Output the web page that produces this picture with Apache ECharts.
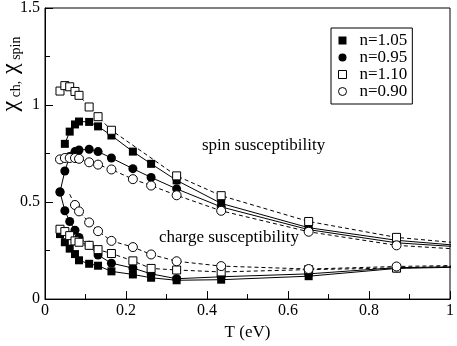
<!DOCTYPE html>
<html><head><meta charset="utf-8">
<script src="https://cdn.jsdelivr.net/npm/echarts@6/dist/echarts.min.js"></script>
<style>html,body{margin:0;padding:0;background:#fff}#c{width:457px;height:346px}</style>
</head><body><div id="c"></div>
<script>
// Temperatures (eV); last value lies beyond the plotted range (lines run off the right edge)
const T = [0.037, 0.049, 0.061, 0.074, 0.084, 0.109, 0.131, 0.164, 0.217, 0.262, 0.325, 0.435, 0.651, 0.868, 1.15];

// spin susceptibility
const spin105 = [null, 0.80, 0.863, 0.90, 0.915, 0.913, 0.89, 0.843, 0.76, 0.697, 0.612, 0.493, 0.368, 0.303, 0.254];
const spin095 = [0.552, 0.66, 0.735, 0.76, 0.768, 0.772, 0.76, 0.727, 0.672, 0.627, 0.568, 0.475, 0.358, 0.29, 0.252];
const spin110 = [1.072, 1.10, 1.094, 1.07, 1.05, 0.99, 0.94, 0.87, null, null, 0.635, 0.533, 0.40, 0.318, 0.265];
const spin090 = [0.72, 0.727, 0.727, 0.727, 0.723, 0.705, 0.693, 0.668, 0.618, 0.585, 0.535, 0.455, 0.347, 0.277, 0.241];

// charge susceptibility
const charge105 = [0.335, 0.293, 0.26, 0.232, 0.20, 0.182, 0.172, 0.143, 0.127, 0.11, 0.097, 0.10, 0.118, 0.158, 0.17];
const charge095 = [0.552, 0.455, 0.40, 0.355, 0.318, 0.277, 0.227, 0.185, 0.16, 0.13, 0.105, 0.115, 0.13, 0.162, 0.17];
const charge110 = [0.36, 0.348, 0.327, 0.30, 0.293, 0.277, 0.255, 0.235, 0.197, 0.158, 0.15, 0.14, 0.152, 0.16, 0.176];
const charge090 = [null, null, 0.54, 0.485, 0.452, 0.395, 0.35, 0.30, 0.268, 0.23, 0.195, 0.17, 0.155, 0.168, 0.178];
const charge090NoMark = [2]; // start of the dashed curve carries no marker

const legendNames = ['n=1.05', 'n=0.95', 'n=1.10', 'n=0.90'];
const xTicks = [0, 0.2, 0.4, 0.6, 0.8, 1];
const yTicks = [0, 0.5, 1, 1.5];

const FONT = "'Liberation Serif', 'Times New Roman', serif";

function mk(name, vals, sym, filled, dashed, noMark) {
  noMark = noMark || [];
  const data = [];
  T.forEach((t, i) => {
    if (vals[i] == null) return;
    if (noMark.indexOf(i) >= 0) data.push({ value: [t, vals[i]], symbol: 'none' });
    else data.push([t, vals[i]]);
  });
  return {
    type: 'line', name: name, data: data,
    symbol: sym, symbolSize: sym === 'rect' ? 8 : 9,
    clip: true,
    itemStyle: filled ? { color: '#000', borderColor: '#000', borderWidth: 0 }
                      : { color: '#fff', borderColor: '#000', borderWidth: 1 },
    lineStyle: { color: '#000', width: 1, type: dashed ? [4, 3] : 'solid' },
    emphasis: { disabled: true },
    animation: false
  };
}

const chart = echarts.init(document.getElementById('c'), null, { renderer: 'canvas' });
chart.setOption({
  backgroundColor: '#fff',
  animation: false,
  textStyle: { fontFamily: FONT },
  grid: { left: 45, right: 5, top: 7, bottom: 39, show: true, borderColor: '#000', borderWidth: 1 },
  xAxis: {
    type: 'value', min: 0, max: 1, interval: 0.2,
    name: 'T (eV)', nameLocation: 'middle', nameGap: 21,
    nameTextStyle: { fontFamily: FONT, fontSize: 17, color: '#000' },
    axisLine: { lineStyle: { color: '#000', width: 1 } },
    axisTick: { inside: true, length: 8, lineStyle: { color: '#000' } },
    minorTick: { show: true, splitNumber: 2, length: 5, lineStyle: { color: '#000' } },
    splitLine: { show: false },
    axisLabel: { fontFamily: FONT, fontSize: 16, color: '#000', margin: 4,
      formatter: v => (xTicks.indexOf(v) >= 0 ? String(v) : '') }
  },
  yAxis: {
    type: 'value', min: 0, max: 1.5, interval: 0.5,
    axisLine: { show: true, lineStyle: { color: '#000', width: 1 } },
    axisTick: { show: true, inside: true, length: 8, lineStyle: { color: '#000' } },
    minorTick: { show: true, splitNumber: 2, length: 5, lineStyle: { color: '#000' } },
    splitLine: { show: false },
    axisLabel: { fontFamily: FONT, fontSize: 16, color: '#000', margin: 5,
      formatter: v => (yTicks.indexOf(v) >= 0 ? String(v) : '') }
  },
  legend: {
    orient: 'vertical', left: 331, top: 28,
    padding: [4, 5, 4, 7], itemGap: 0,
    itemWidth: 8, itemHeight: 8,
    borderColor: '#000', borderWidth: 1, backgroundColor: '#fff',
    textStyle: { fontFamily: FONT, fontSize: 17, color: '#000', lineHeight: 16.7, padding: [0, 0, 0, 8] },
    data: [
      { name: legendNames[0], icon: 'rect', itemStyle: { color: '#000', borderWidth: 0 } },
      { name: legendNames[1], icon: 'circle', itemStyle: { color: '#000', borderWidth: 0 } },
      { name: legendNames[2], icon: 'rect', itemStyle: { color: '#fff', borderColor: '#000', borderWidth: 1 } },
      { name: legendNames[3], icon: 'circle', itemStyle: { color: '#fff', borderColor: '#000', borderWidth: 1 } }
    ],
    selectedMode: false
  },
  graphic: [
    { type: 'text', x: 11, y: 74, rotation: Math.PI / 2,
      style: { text: '{a|χ}{b| ch,}  {a|χ}{b| spin}', align: 'center', verticalAlign: 'middle',
        rich: { a: { fontFamily: FONT, fontSize: 24, fill: '#000', verticalAlign: 'bottom' },
                b: { fontFamily: FONT, fontSize: 14, fill: '#000', verticalAlign: 'bottom' } } } },
    { type: 'text', x: 202, y: 146, style: { text: 'spin susceptibility', fontFamily: FONT, fontSize: 17, fill: '#000', verticalAlign: 'middle' } },
    { type: 'text', x: 159, y: 238, style: { text: 'charge susceptibility', fontFamily: FONT, fontSize: 17, fill: '#000', verticalAlign: 'middle' } }
  ],
  series: [
    mk(legendNames[0], spin105, 'rect', true, false),
    mk(legendNames[0], charge105, 'rect', true, false),
    mk(legendNames[1], spin095, 'circle', true, false),
    mk(legendNames[1], charge095, 'circle', true, false),
    mk(legendNames[2], spin110, 'rect', false, true),
    mk(legendNames[2], charge110, 'rect', false, true),
    mk(legendNames[3], spin090, 'circle', false, true),
    mk(legendNames[3], charge090, 'circle', false, true, charge090NoMark)
  ]
});
</script>
</body></html>
